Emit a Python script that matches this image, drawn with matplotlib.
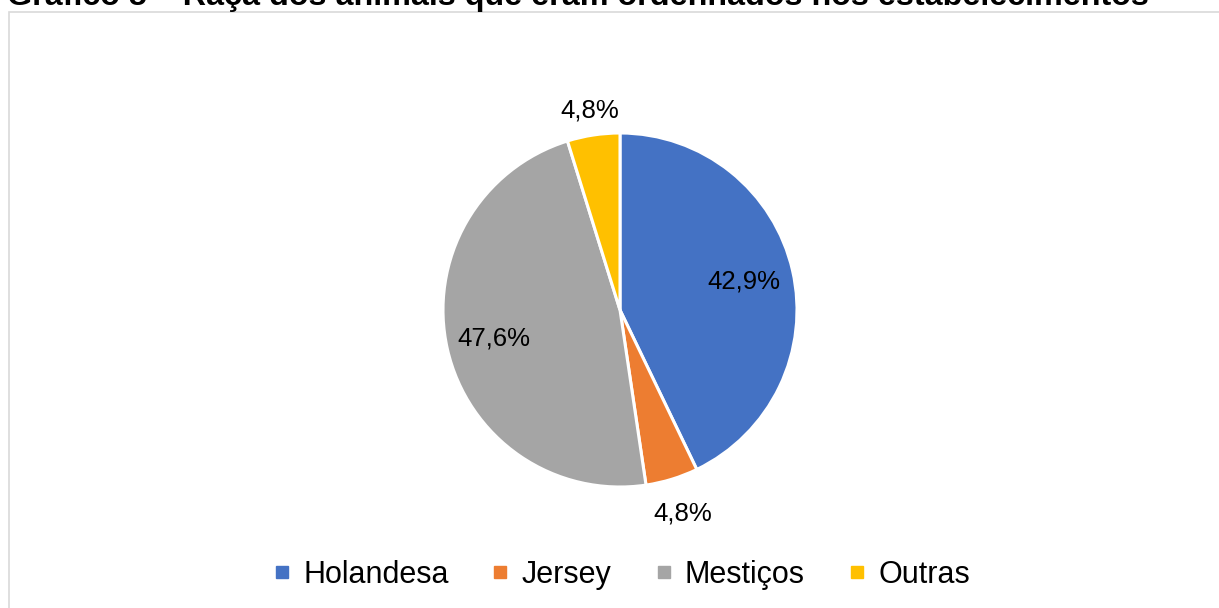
import matplotlib.pyplot as plt
import numpy as np
from matplotlib.lines import Line2D
from matplotlib.patches import Rectangle

plt.rcParams['font.family'] = ['Liberation Sans', 'DejaVu Sans']

# Raça dos animais ordenhados
racas = ['Holandesa', 'Jersey', 'Mestiços', 'Outras']
percentuais = [42.9, 4.8, 47.6, 4.8]
cores = ['#4472C4', '#ED7D31', '#A5A5A5', '#FFC000']
titulo = 'Gráfico 5 – Raça dos animais que eram ordenhados nos estabelecimentos'

W, H = 1219, 608
fig = plt.figure(figsize=(W / 100, H / 100), dpi=100)
ax = fig.add_axes([0, 0, 1, 1])
ax.set_xlim(0, W)
ax.set_ylim(0, H)
ax.axis('off')

# moldura do gráfico
ax.add_patch(Rectangle((8.5, -10), W + 20, H - 12 + 10, fill=False,
                       edgecolor='#d9d9d9', linewidth=1.2))

centro = (620, H - 310)
raio = 177
wedges, _ = ax.pie(percentuais, colors=cores, startangle=90, counterclock=False,
                   center=centro, radius=raio,
                   wedgeprops=dict(edgecolor='white', linewidth=2.2))
ax.set_xlim(0, W)
ax.set_ylim(0, H)
ax.set_aspect('equal')

# rótulos: dentro para fatias grandes, fora para as pequenas
dist = [0.72, 1.2, 0.73, 1.14]
for w, p, d in zip(wedges, percentuais, dist):
    ang = np.deg2rad((w.theta1 + w.theta2) / 2)
    x = centro[0] + d * raio * np.cos(ang)
    y = centro[1] + d * raio * np.sin(ang)
    ax.text(x, y, f'{p:.1f}%'.replace('.', ','), ha='center', va='center',
            fontsize=18.5, color='black')

ax.text(7, H - 5, titulo, ha='left', va='baseline', fontsize=23.2,
        fontweight='bold', clip_on=False)

handles = [Line2D([], [], marker='s', linestyle='', markersize=8.5, color=c)
           for c in cores]
fig.legend(handles, racas, loc='center', bbox_to_anchor=(622 / W, 33 / H),
           ncol=4, frameon=False, fontsize=22, handlelength=0.5,
           handletextpad=0.45, columnspacing=1.45, borderpad=0)

fig.savefig('out.png', dpi=100)
